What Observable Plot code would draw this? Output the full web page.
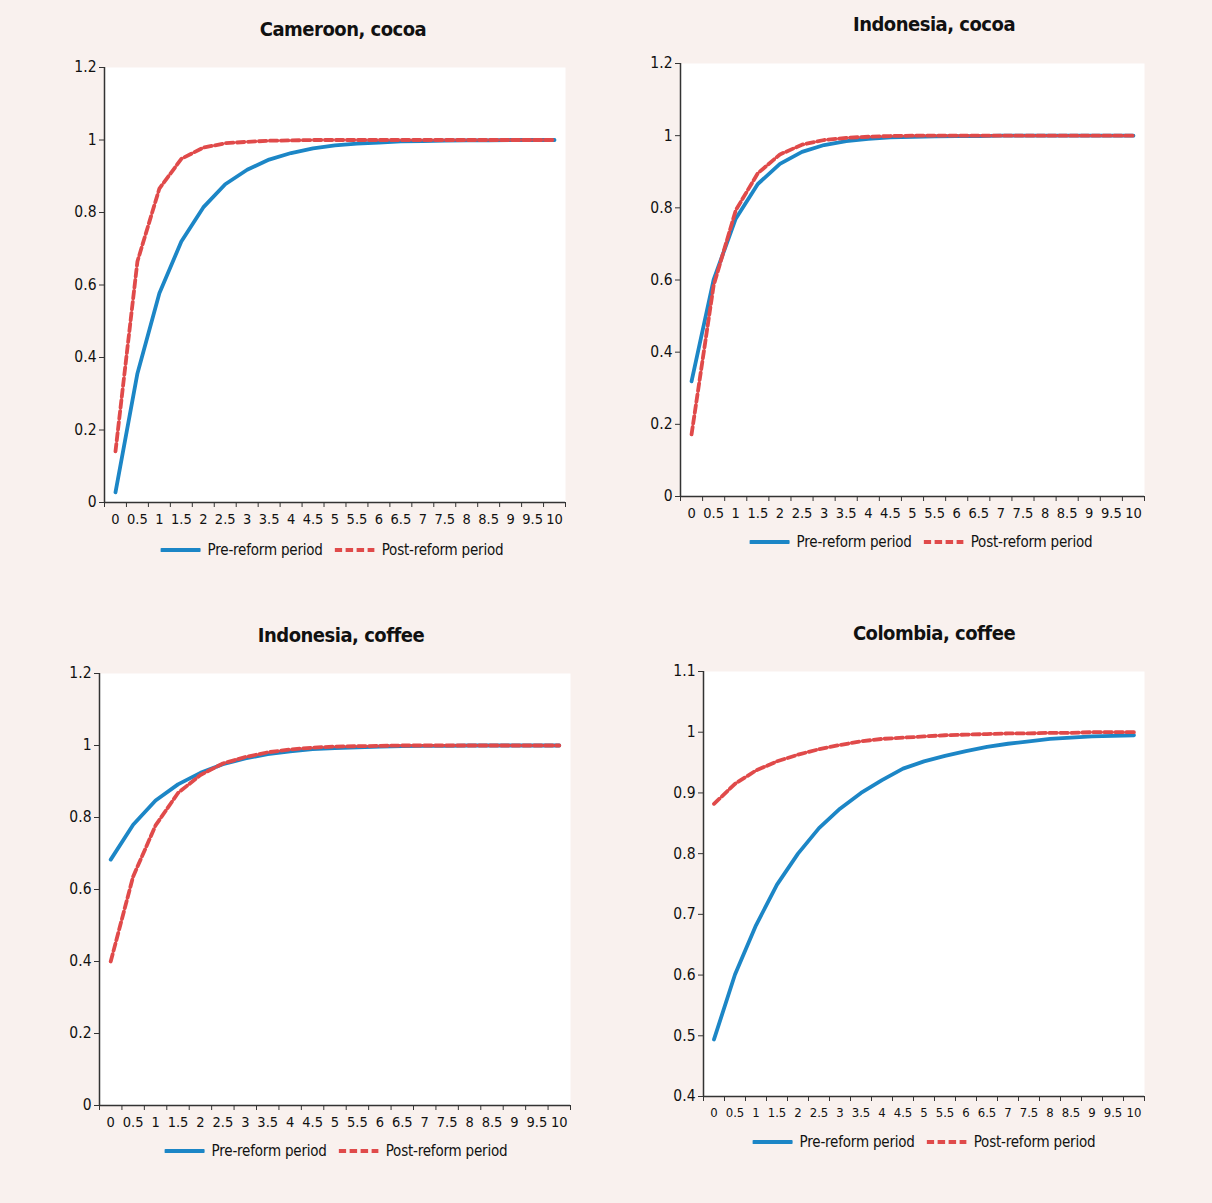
<!DOCTYPE html>
<html>
<head>
<meta charset="utf-8">
<script src="https://cdn.jsdelivr.net/npm/d3@7"></script>
<script src="https://cdn.jsdelivr.net/npm/@observablehq/plot@0.6"></script>
<style>
  html, body { margin: 0; padding: 0; }
  body { width: 1212px; height: 1203px; background: #f9f1ee; position: relative; overflow: hidden;
         font-family: "Liberation Sans Narrow", "DejaVu Sans", sans-serif; font-stretch: condensed; color: #111; }
  .title { position: absolute; font-weight: bold; font-size: 20px; letter-spacing: -0.5px; transform: translate(-50%, -50%); white-space: nowrap; font-stretch: condensed; }
  .plot { position: absolute; }
  .plot text { font-stretch: condensed; }
  .legend { position: absolute; transform: translate(-50%, -50%); display: flex; align-items: center; white-space: nowrap; font-size: 15px; letter-spacing: -0.2px; color: #111; font-stretch: condensed; }
  .legend .item { display: flex; align-items: center; margin: 0 6px; }
</style>
</head>
<body>
<script>
// ---- data ----
const periods = [0, 0.5, 1, 1.5, 2, 2.5, 3, 3.5, 4, 4.5, 5, 5.5, 6, 6.5, 7, 7.5, 8, 8.5, 9, 9.5, 10];
const periodLabels = ["0","0.5","1","1.5","2","2.5","3","3.5","4","4.5","5","5.5","6","6.5","7","7.5","8","8.5","9","9.5","10"];

const cameroonCocoaPre  = [0.028, 0.356, 0.577, 0.72, 0.814, 0.878, 0.918, 0.946, 0.964, 0.977, 0.985, 0.99, 0.993, 0.996, 0.997, 0.998, 0.999, 0.999, 1, 1, 1];
const cameroonCocoaPost = [0.141, 0.665, 0.866, 0.948, 0.979, 0.991, 0.995, 0.998, 0.999, 1, 1, 1, 1, 1, 1, 1, 1, 1, 1, 1, 1];

const indonesiaCocoaPre  = [0.319, 0.601, 0.77, 0.866, 0.922, 0.955, 0.974, 0.985, 0.991, 0.995, 0.997, 0.998, 0.999, 0.999, 1, 1, 1, 1, 1, 1, 1];
const indonesiaCocoaPost = [0.172, 0.585, 0.793, 0.896, 0.948, 0.975, 0.988, 0.994, 0.997, 0.999, 1, 1, 1, 1, 1, 1, 1, 1, 1, 1, 1];

const indonesiaCoffeePre  = [0.683, 0.78, 0.847, 0.892, 0.924, 0.948, 0.964, 0.976, 0.984, 0.99, 0.993, 0.995, 0.997, 0.998, 0.999, 0.999, 1, 1, 1, 1, 1];
const indonesiaCoffeePost = [0.4, 0.636, 0.778, 0.868, 0.918, 0.95, 0.968, 0.981, 0.989, 0.994, 0.997, 0.998, 0.999, 1, 1, 1, 1, 1, 1, 1, 1];

const colombiaCoffeePre  = [0.494, 0.601, 0.682, 0.749, 0.8, 0.842, 0.874, 0.9, 0.921, 0.94, 0.952, 0.961, 0.969, 0.976, 0.981, 0.985, 0.989, 0.991, 0.993, 0.994, 0.995];
const colombiaCoffeePost = [0.882, 0.915, 0.937, 0.952, 0.963, 0.972, 0.979, 0.985, 0.989, 0.991, 0.993, 0.995, 0.996, 0.997, 0.998, 0.998, 0.999, 0.999, 1, 1, 1];

const yTicksA = [0, 0.2, 0.4, 0.6, 0.8, 1, 1.2];
const yTicksB = [0.4, 0.5, 0.6, 0.7, 0.8, 0.9, 1, 1.1];

const seriesNames = ["Pre-reform period", "Post-reform period"];
const titles = ["Cameroon, cocoa", "Indonesia, cocoa", "Indonesia, coffee", "Colombia, coffee"];

// ---- style ----
const BLUE = "#1c86c6";
const RED = "#e04a4a";
const DASH = "7.5,3.5";
const AXIS = "#333";
const FONT = '"Liberation Sans Narrow", "DejaVu Sans", sans-serif';

// category edges for tick marks (Excel-style ticks between categories)
const half = (periods[1] - periods[0]) / 2;
const edges = periods.map(p => p - half).concat([periods[periods.length - 1] + half]);

const panels = [
  {title: titles[0], pre: cameroonCocoaPre, post: cameroonCocoaPost, yDomain: [0, 1.2], yTicks: yTicksA,
   box: {x0: 104, x1: 565, y0: 67, y1: 502}, titlePos: [343, 29], legendPos: [332, 550], xFont: 14.5, yFont: 15.5},
  {title: titles[1], pre: indonesiaCocoaPre, post: indonesiaCocoaPost, yDomain: [0, 1.2], yTicks: yTicksA,
   box: {x0: 680, x1: 1144, y0: 63, y1: 496}, titlePos: [934, 24], legendPos: [921, 542], xFont: 14.5, yFont: 15.5},
  {title: titles[2], pre: indonesiaCoffeePre, post: indonesiaCoffeePost, yDomain: [0, 1.2], yTicks: yTicksA,
   box: {x0: 99, x1: 570, y0: 673, y1: 1105}, titlePos: [341, 635], legendPos: [336, 1151], xFont: 14.5, yFont: 15.5},
  {title: titles[3], pre: colombiaCoffeePre, post: colombiaCoffeePost, yDomain: [0.4, 1.1], yTicks: yTicksB,
   box: {x0: 703, x1: 1144, y0: 671, y1: 1096}, titlePos: [934, 633], legendPos: [924, 1142], xFont: 13, yFont: 15.5}
];

const mL = 50, mR = 10, mT = 10, mB = 30;

for (const p of panels) {
  const data = [];
  periods.forEach((t, i) => {
    data.push({t, v: p.pre[i], s: seriesNames[0]});
    data.push({t, v: p.post[i], s: seriesNames[1]});
  });
  const w = p.box.x1 - p.box.x0 + mL + mR;
  const h = p.box.y1 - p.box.y0 + mT + mB;
  const xDomain = [edges[0], edges[edges.length - 1]];

  const chart = Plot.plot({
    width: w, height: h,
    marginLeft: mL, marginRight: mR, marginTop: mT, marginBottom: mB,
    style: {background: "transparent", fontFamily: FONT, fontSize: p.yFont + "px", color: "#111", overflow: "visible"},
    x: {domain: xDomain, axis: null, label: null},
    y: {domain: p.yDomain, axis: null, label: null},
    marks: [
      Plot.frame({fill: "white", stroke: null}),
      Plot.line(data.filter(d => d.s === seriesNames[0]), {x: "t", y: "v", stroke: BLUE, strokeWidth: 3.8, strokeLinejoin: "round", strokeLinecap: "round"}),
      Plot.line(data.filter(d => d.s === seriesNames[1]), {x: "t", y: "v", stroke: RED, strokeWidth: 3.8, strokeDasharray: DASH, strokeLinejoin: "round"}),
      Plot.ruleX([xDomain[0]], {stroke: AXIS, strokeWidth: 1.5}),
      Plot.ruleY([p.yDomain[0]], {stroke: AXIS, strokeWidth: 1.5}),
      Plot.axisY({ticks: p.yTicks, label: null, tickSize: 5, tickPadding: 3, tickFormat: d => String(+d.toFixed(2)), stroke: AXIS, fontSize: p.yFont, fill: "#111"}),
      Plot.axisX({ticks: edges, label: null, tickSize: 5, tickFormat: () => "", stroke: AXIS}),
      Plot.axisX({ticks: periods, label: null, tickSize: 0, tickPadding: 11, tickFormat: d => periodLabels[periods.indexOf(d)], fontSize: p.xFont, fill: "#111"})
    ]
  });
  chart.classList.add("plot");
  chart.style.left = (p.box.x0 - mL) + "px";
  chart.style.top = (p.box.y0 - mT) + "px";
  document.body.appendChild(chart);

  const title = document.createElement("div");
  title.className = "title";
  title.textContent = p.title;
  title.style.left = p.titlePos[0] + "px";
  title.style.top = p.titlePos[1] + "px";
  document.body.appendChild(title);

  const leg = document.createElement("div");
  leg.className = "legend";
  leg.style.left = p.legendPos[0] + "px";
  leg.style.top = p.legendPos[1] + "px";
  leg.innerHTML =
    `<span class="item"><svg width="40" height="6" style="margin-right:7px"><line x1="1" x2="39" y1="3" y2="3" stroke="${BLUE}" stroke-width="4" stroke-linecap="round"/></svg>${seriesNames[0]}</span>` +
    `<span class="item"><svg width="40" height="6" style="margin-right:7px"><line x1="0" x2="40" y1="3" y2="3" stroke="${RED}" stroke-width="4" stroke-dasharray="${DASH}"/></svg>${seriesNames[1]}</span>`;
  document.body.appendChild(leg);
}
</script>
</body>
</html>
